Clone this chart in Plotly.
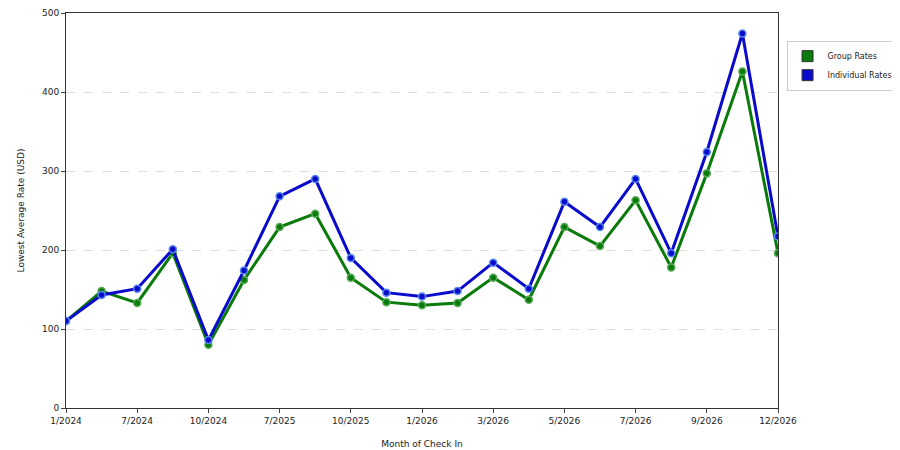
import plotly.graph_objects as go

labels = ["1/2024","","7/2024","","10/2024","","7/2025","","10/2025","","1/2026","","3/2026","","5/2026","","7/2026","","9/2026","","12/2026"]
group = [110,148,133,196,80,162,229,246,165,134,130,133,165,137,229,205,263,178,297,426,196]
indiv = [110,143,151,201,86,174,268,290,190,146,141,148,184,151,261,229,290,196,324,474,217]
x = list(range(len(labels)))

fig = go.Figure()
for name, ys, col, mc in [("Group Rates", group, "#0a7a0a", "#55aa55"), ("Individual Rates", indiv, "#0a0acc", "#5588ee")]:
    fig.add_trace(go.Scatter(x=x, y=ys, name=name, mode="lines+markers", showlegend=False,
        line=dict(color=col, width=3),
        marker=dict(size=7, color=col, line=dict(color=mc, width=1.5))))
    fig.add_trace(go.Scatter(x=[None], y=[None], name=name, mode="markers",
        marker=dict(symbol="square", size=11, color=col, line=dict(color="#333", width=1))))

fig.update_layout(
    width=900, height=450, margin=dict(l=58, r=130, t=5, b=50, autoexpand=False),
    paper_bgcolor="white", plot_bgcolor="white",
    font=dict(family="DejaVu Sans", size=9, color="#222"),
    legend=dict(x=1.012, y=0.93, xanchor="left", yanchor="top", bordercolor="#ccc", borderwidth=1,
                font=dict(size=8), itemwidth=30, tracegroupgap=2),
    xaxis=dict(tickvals=[i for i in x if labels[i]], ticktext=[l for l in labels if l], automargin=False,
               range=[0, 20], showgrid=False, showline=True, linecolor="#333", mirror=True,
               ticks="outside", ticklen=4, title=dict(text="Month of Check In", font=dict(size=9))),
    yaxis=dict(range=[0, 500], tickvals=[0,100,200,300,400,500], showgrid=True, gridcolor="#ddd",
               griddash="dash", showline=True, linecolor="#333", mirror=True, ticks="outside", ticklen=4,
               automargin=False, zeroline=False, title=dict(text="Lowest Average Rate (USD)", font=dict(size=9))),
)
fig.write_html("out.html")
